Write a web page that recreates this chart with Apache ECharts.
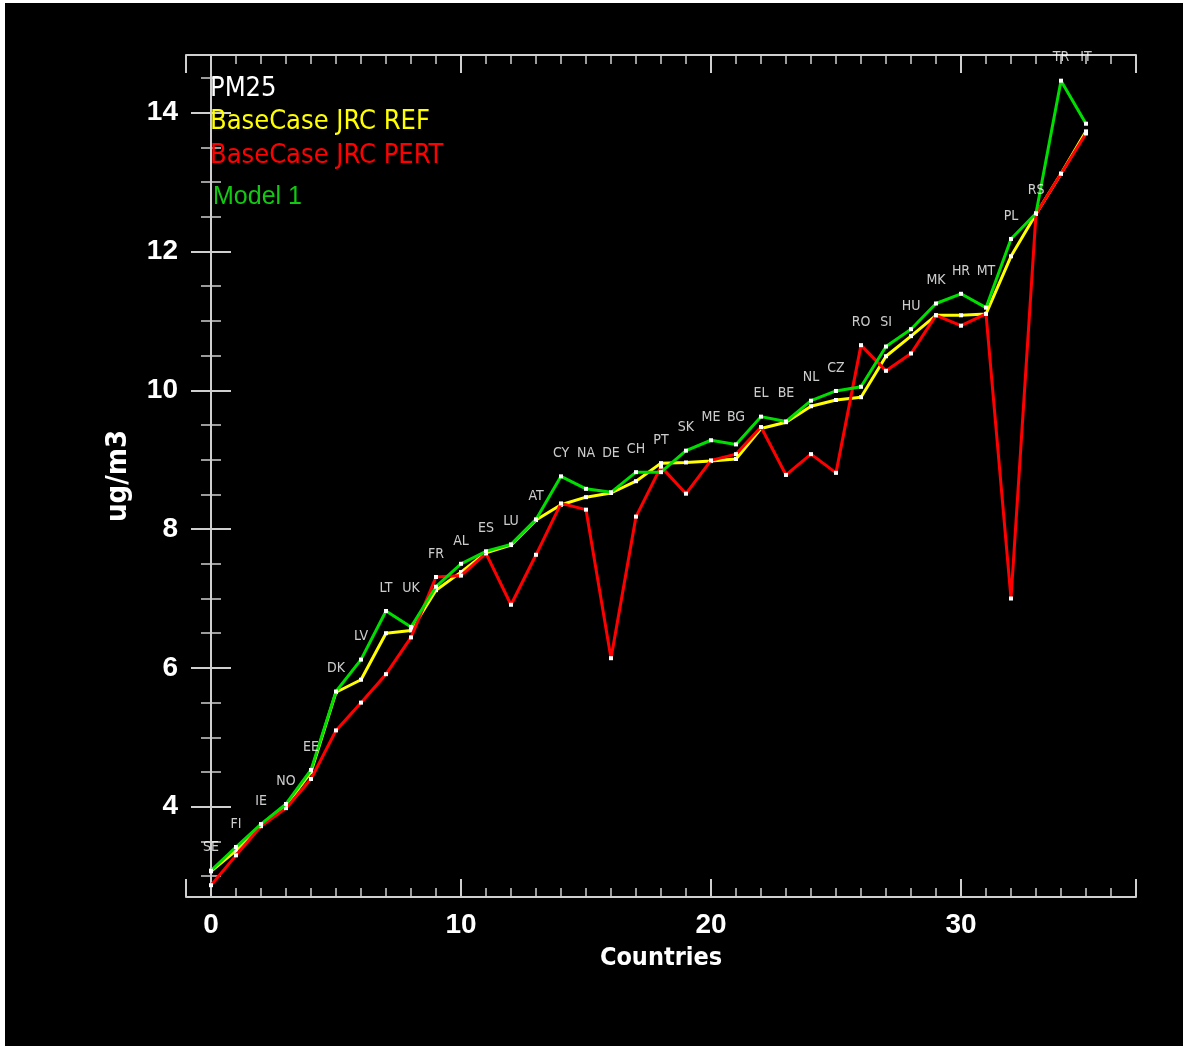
<!DOCTYPE html>
<html><head><meta charset="utf-8">
<script src="https://cdn.jsdelivr.net/npm/echarts@6/dist/echarts.min.js"></script>
<style>
html,body{margin:0;padding:0;background:#fff;width:1183px;height:1051px;overflow:hidden}
#c{position:absolute;left:5px;top:3px;width:1178px;height:1043px;background:#000}
</style></head><body><div id="c"></div>
<script>
const countries = ['SE','FI','IE','NO','EE','DK','LV','LT','UK','FR','AL','ES','LU','AT','CY','NA','DE','CH','PT','SK','ME','BG','EL','BE','NL','CZ','RO','SI','HU','MK','HR','MT','PL','RS','TR','IT'];
const refValues   = [3.07,3.37,3.74,4.02,4.50,5.65,5.83,6.50,6.54,7.12,7.38,7.66,7.77,8.13,8.35,8.46,8.52,8.69,8.95,8.96,8.98,9.01,9.45,9.54,9.77,9.86,9.90,10.49,10.78,11.08,11.08,11.10,11.93,12.54,13.12,13.73];
const pertValues  = [2.87,3.30,3.72,3.98,4.40,5.10,5.50,5.91,6.44,7.31,7.33,7.65,6.91,7.63,8.37,8.28,6.14,8.18,8.90,8.51,8.99,9.08,9.47,8.78,9.08,8.81,10.65,10.28,10.53,11.08,10.93,11.10,7.00,12.54,13.12,13.70];
const modelValues = [3.08,3.42,3.75,4.04,4.53,5.66,6.12,6.82,6.59,7.17,7.50,7.68,7.78,8.14,8.76,8.58,8.53,8.82,8.82,9.13,9.28,9.22,9.62,9.55,9.85,9.99,10.05,10.63,10.88,11.25,11.39,11.19,12.18,12.55,14.46,13.84];
const xTickLabels = [0,10,20,30];
const yTickLabels = [4,6,8,10,12,14];

const OX = 5, OY = 3;
const pair = arr => arr.map((v,i)=>[i,v]);
// country labels sit a little above the highest value of the last three countries
const labelLevels = countries.map((n,i)=>{
  let m = -Infinity;
  for (let k=Math.max(0,i-2); k<=i; k++) m = Math.max(m, refValues[k], pertValues[k], modelValues[k]);
  return [i, m + 0.33];
});

const axisCol = '#cfcfcf';
const cond = 'DejaVu Sans Condensed, DejaVu Sans, sans-serif';
const tickFont = {color:'#fff', fontSize:28, fontWeight:'bold', fontFamily:'Liberation Sans, Arial, sans-serif'};
function xAxisCfg(pos, labels){
  return {type:'value', position:pos, min:-1, max:37, splitNumber:4,
    axisLine:{show:true, lineStyle:{color:axisCol, width:2}},
    axisTick:{show:true, inside:true, length:18, lineStyle:{color:axisCol, width:2}},
    minorTick:{show:true, splitNumber:10, length:9, lineStyle:{color:axisCol, width:1.5}},
    splitLine:{show:false}, minorSplitLine:{show:false},
    axisLabel:{show:labels, margin:14, showMinLabel:false, showMaxLabel:false,
      formatter:v=> xTickLabels.includes(v) ? String(v) : '', ...tickFont},
    name: labels ? 'Countries' : '', nameLocation:'middle', nameGap:49,
    nameTextStyle:{color:'#fff', fontSize:25, fontWeight:'bold', fontFamily:cond}
  };
}
function yAxisCfg(pos, labels){
  return {type:'value', position:pos, min:2.7, max:14.83, splitNumber:6,
    axisLine:{show:true, lineStyle:{color:axisCol, width:2}},
    axisTick:{show:true, inside:true, length:20, lineStyle:{color:axisCol, width:2}},
    minorTick:{show:true, splitNumber:4, length:10, lineStyle:{color:axisCol, width:1.5}},
    splitLine:{show:false}, minorSplitLine:{show:false},
    axisLabel:{show:labels, margin:8, showMinLabel:false, showMaxLabel:false,
      formatter:v=> yTickLabels.includes(v) ? String(v) : '', ...tickFont},
    name: labels ? 'ug/m3' : '', nameLocation:'middle', nameRotate:90, nameGap:53,
    nameTextStyle:{color:'#fff', fontSize:29, fontWeight:'bold', fontFamily:cond}
  };
}
function lineSeries(name, data, color, z){
  return {name, type:'line', data:pair(data), z, symbol:'rect', symbolSize:4, showSymbol:true,
    lineStyle:{color, width:3}, itemStyle:{color:'#fff'}, emphasis:{disabled:true}, clip:false};
}
const legendBase = {orient:'vertical', icon:'none', itemWidth:0, itemHeight:0, selectedMode:false};
const chart = echarts.init(document.getElementById('c'));
chart.setOption({
  backgroundColor:'#000',
  animation:false,
  title:{text:'PM25', left:210-5-OX, top:88-13.5-5-OY+1, padding:5,
    textStyle:{color:'#fff', fontSize:27, fontWeight:'normal', fontFamily:cond}},
  legend:[
    {...legendBase, data:['BaseCase JRC REF'], left:210-10-OX, top:121-13.5-5-OY+1,
     textStyle:{color:'#ffff00', fontSize:27, fontFamily:cond}},
    {...legendBase, data:['BaseCase JRC PERT'], left:210-10-OX, top:155-13.5-5-OY+1,
     textStyle:{color:'#ff0000', fontSize:27, fontFamily:cond}},
    {...legendBase, data:['Model 1'], left:213-10-OX, top:196-12.5-5-OY+1,
     textStyle:{color:'#12c812', fontSize:25, fontFamily:'Liberation Sans, Arial, sans-serif'}}
  ],
  grid:{left:186-OX, top:55-OY, width:950, height:842, containLabel:false},
  xAxis:[xAxisCfg('bottom', true), xAxisCfg('top', false)],
  yAxis:[yAxisCfg('left', true), yAxisCfg('right', false)],
  series:[
    lineSeries('BaseCase JRC REF', refValues, '#ffff00', 2),
    lineSeries('BaseCase JRC PERT', pertValues, '#ff0000', 3),
    lineSeries('Model 1', modelValues, '#00dd00', 4),
    {name:'countries', type:'scatter', data:labelLevels, symbolSize:0, z:5, silent:true,
     label:{show:true, position:'inside', color:'#fff', fontSize:14, fontFamily:cond,
       formatter:p=>countries[p.dataIndex]}}
  ]
});
</script></body></html>
